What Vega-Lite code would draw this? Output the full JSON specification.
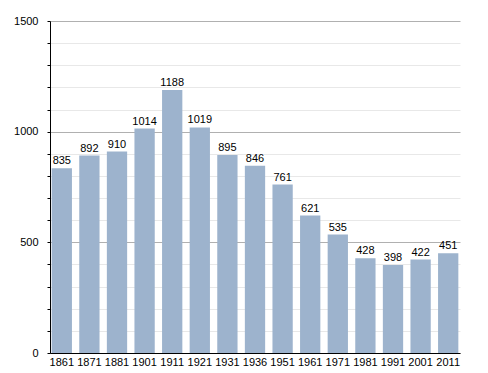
{
  "$schema": "https://vega.github.io/schema/vega-lite/v6.json",
  "width": 410,
  "height": 332,
  "autosize": {"type": "none"},
  "padding": {"left": 50, "top": 21, "right": 28, "bottom": 20},
  "background": "white",
  "config": {"view": {"stroke": null}, "font": "Liberation Sans"},
  "data": {"values": [
    {"year": "1861", "pop": 835},
    {"year": "1871", "pop": 892},
    {"year": "1881", "pop": 910},
    {"year": "1901", "pop": 1014},
    {"year": "1911", "pop": 1188},
    {"year": "1921", "pop": 1019},
    {"year": "1931", "pop": 895},
    {"year": "1936", "pop": 846},
    {"year": "1951", "pop": 761},
    {"year": "1961", "pop": 621},
    {"year": "1971", "pop": 535},
    {"year": "1981", "pop": 428},
    {"year": "1991", "pop": 398},
    {"year": "2001", "pop": 422},
    {"year": "2011", "pop": 451}
  ]},
  "encoding": {
    "x": {"field": "year", "type": "ordinal", "sort": null,
      "scale": {"paddingInner": 0.265, "paddingOuter": 0.06},
      "axis": {"title": null, "labelAngle": 0, "ticks": false, "domainColor": "#000", "labelFontSize": 11, "labelColor": "#000", "labelPadding": 3}},
    "y": {"field": "pop", "type": "quantitative",
      "scale": {"domain": [0, 1500], "nice": false},
      "axis": {"title": null, "values": [0,100,200,300,400,500,600,700,800,900,1000,1100,1200,1300,1400,1500],
        "labelExpr": "datum.value % 500 === 0 ? datum.label : ''",
        "format": "d",
        "gridColor": {"condition": {"test": "datum.value % 500 === 0", "value": "#b0b0b0"}, "value": "#e8e8e8"},
        "domainColor": "#000", "tickColor": "#000", "tickSize": 3, "labelPadding": 9,
        "labelFontSize": 11, "labelColor": "#000"}}
  },
  "layer": [
    {"mark": {"type": "bar", "color": "#9db3cd"}},
    {"mark": {"type": "text", "dy": -7, "fontSize": 11, "color": "#000"},
     "encoding": {"text": {"field": "pop", "type": "quantitative"}}}
  ]
}
